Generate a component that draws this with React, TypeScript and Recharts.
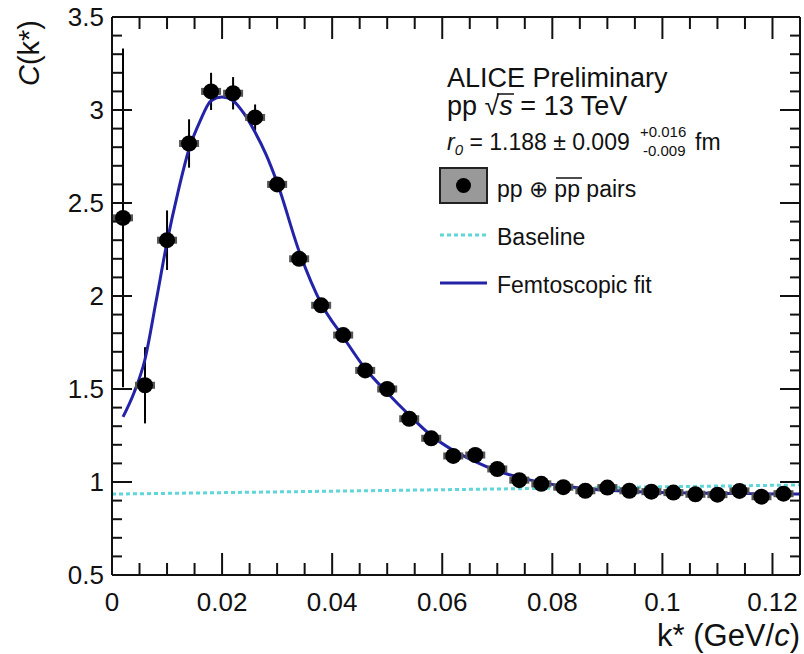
import React from "react";
import { ComposedChart, Scatter, Line, XAxis, YAxis, ErrorBar } from "recharts";

// measured correlation function, pp (+) anti-pp
const kStar = [
  0.002, 0.006, 0.01, 0.014, 0.018, 0.022, 0.026, 0.03, 0.034, 0.038, 0.042,
  0.046, 0.05, 0.054, 0.058, 0.062, 0.066, 0.07, 0.074, 0.078, 0.082, 0.086,
  0.09, 0.094, 0.098, 0.102, 0.106, 0.11, 0.114, 0.118, 0.122,
];
const corr = [
  2.42, 1.52, 2.3, 2.82, 3.1, 3.09, 2.96, 2.6, 2.2, 1.95, 1.79,
  1.6, 1.5, 1.34, 1.235, 1.14, 1.145, 1.07, 1.01, 0.99, 0.972, 0.953,
  0.97, 0.953, 0.948, 0.943, 0.934, 0.932, 0.952, 0.921, 0.937,
];
const statErr = [
  0.91, 0.205, 0.16, 0.13, 0.1, 0.087, 0.07, 0.04, 0.03, 0.03, 0.02,
  0.02, 0.02, 0.02, 0.02, 0.015, 0.015, 0.015, 0.01, 0.01, 0.01, 0.01,
  0.01, 0.01, 0.01, 0.01, 0.01, 0.01, 0.01, 0.01, 0.01,
];

// femtoscopic fit curve
const fitK = [
  0.002, 0.004, 0.006, 0.008, 0.01, 0.012, 0.014, 0.016, 0.018, 0.02, 0.022,
  0.024, 0.026, 0.028, 0.03, 0.034, 0.038, 0.042, 0.046, 0.05, 0.054, 0.058,
  0.062, 0.066, 0.07, 0.074, 0.078, 0.082, 0.086, 0.09, 0.094, 0.098, 0.102,
  0.106, 0.11, 0.114, 0.118, 0.122, 0.125,
];
const fitC = [
  1.35, 1.48, 1.66, 1.97, 2.29, 2.56, 2.79, 2.94, 3.05, 3.07, 3.05,
  2.98, 2.88, 2.76, 2.61, 2.24, 1.96, 1.78, 1.61, 1.48, 1.36, 1.25,
  1.17, 1.11, 1.06, 1.025, 0.998, 0.978, 0.964, 0.955, 0.949, 0.945, 0.942,
  0.94, 0.939, 0.938, 0.937, 0.936, 0.936,
];

// baseline
const baseK = [0, 0.125];
const baseC = [0.935, 0.984];

const xTicks = [
  0, 0.005, 0.01, 0.015, 0.02, 0.025, 0.03, 0.035, 0.04, 0.045, 0.05, 0.055,
  0.06, 0.065, 0.07, 0.075, 0.08, 0.085, 0.09, 0.095, 0.1, 0.105, 0.11, 0.115,
  0.12,
];
const xMajor = [0, 0.02, 0.04, 0.06, 0.08, 0.1, 0.12];
const yTicks = [
  0.5, 0.6, 0.7, 0.8, 0.9, 1, 1.1, 1.2, 1.3, 1.4, 1.5, 1.6, 1.7, 1.8, 1.9, 2,
  2.1, 2.2, 2.3, 2.4, 2.5, 2.6, 2.7, 2.8, 2.9, 3, 3.1, 3.2, 3.3, 3.4, 3.5,
];
const yMajor = [0.5, 1, 1.5, 2, 2.5, 3, 3.5];

const points = kStar.map((k, i) => ({ k, c: corr[i], err: statErr[i] }));
const fit = fitK.map((k, i) => ({ k, c: fitC[i] }));
const baseline = baseK.map((k, i) => ({ k, c: baseC[i] }));

const FONT = "'Liberation Sans', Arial, Helvetica, sans-serif";
const FIT_COLOR = "#2323a8";
const BASE_COLOR = "#5fd6d8";

function BottomTick(props: any) {
  const { x, y, payload } = props;
  const major = xMajor.includes(payload.value);
  return (
    <g>
      <line x1={x} x2={x} y1={y} y2={y - (major ? 22 : 12)} stroke="#111" strokeWidth={2} />
      {major && (
        <text x={x} y={y + 36} textAnchor="middle" fontSize={26} fontFamily={FONT} fill="#111">
          {String(payload.value)}
        </text>
      )}
    </g>
  );
}

function TopTick(props: any) {
  const { x, y, payload } = props;
  const major = xMajor.includes(payload.value);
  return <line x1={x} x2={x} y1={y} y2={y + (major ? 22 : 12)} stroke="#111" strokeWidth={2} />;
}

function LeftTick(props: any) {
  const { x, y, payload } = props;
  const major = yMajor.includes(payload.value);
  return (
    <g>
      <line x1={x} x2={x + (major ? 20 : 10)} y1={y} y2={y} stroke="#111" strokeWidth={2} />
      {major && (
        <text x={x - 8} y={y + 9} textAnchor="end" fontSize={26} fontFamily={FONT} fill="#111">
          {String(payload.value)}
        </text>
      )}
    </g>
  );
}

function RightTick(props: any) {
  const { x, y, payload } = props;
  const major = yMajor.includes(payload.value);
  return <line x1={x} x2={x - (major ? 20 : 10)} y1={y} y2={y} stroke="#111" strokeWidth={2} />;
}

function DataMarker(props: any) {
  const { cx, cy } = props;
  return (
    <g>
      <rect x={cx - 10} y={cy - 3.5} width={20} height={7} fill="#555" />
      <circle cx={cx} cy={cy} r={8} fill="#000" />
    </g>
  );
}

function Overlay() {
  const t = { fontFamily: FONT, fill: "#111" };
  return (
    <svg
      width={804}
      height={654}
      style={{ position: "absolute", left: 0, top: 0, pointerEvents: "none" }}
    >
      {/* axis titles */}
      <text transform="rotate(-90)" x={-20} y={39} textAnchor="end" fontSize={29} {...t}>
        <tspan fontStyle="italic">C</tspan>(k*)
      </text>
      <text x={800} y={646} textAnchor="end" fontSize={31} {...t}>
        k* (GeV/<tspan fontStyle="italic">c</tspan>)
      </text>

      {/* header */}
      <text x={447} y={87} fontSize={27} {...t}>ALICE Preliminary</text>
      <text x={447} y={115} fontSize={27} {...t}>
        pp √<tspan fontStyle="italic">s</tspan> = 13 TeV
      </text>
      <line x1={497} x2={514} y1={94} y2={94} stroke="#111" strokeWidth={1.5} />
      <text x={447} y={150} fontSize={23} {...t}>
        <tspan fontStyle="italic">r</tspan>
        <tspan fontStyle="italic" fontSize={15} dy={5}>0</tspan>
        <tspan dy={-5}> = 1.188 ± 0.009</tspan>
      </text>
      <text x={640} y={137} fontSize={15} {...t}>+0.016</text>
      <text x={643} y={156} fontSize={15} {...t}>-0.009</text>
      <text x={695} y={150} fontSize={23} {...t}>fm</text>

      {/* legend */}
      <rect x={440} y={168} width={47} height={35} fill="#999" stroke="#222" strokeWidth={2} />
      <circle cx={463.5} cy={185.5} r={7.5} fill="#000" />
      <text x={497} y={197} fontSize={23} {...t}>
        pp ⊕ pp pairs
      </text>
      <line x1={556} x2={582} y1={178} y2={178} stroke="#111" strokeWidth={1.5} />
      <line x1={440} x2={487} y1={235} y2={235} stroke={BASE_COLOR} strokeWidth={3} strokeDasharray="4 3" />
      <text x={497} y={245} fontSize={23} {...t}>Baseline</text>
      <line x1={440} x2={487} y1={283} y2={283} stroke={FIT_COLOR} strokeWidth={3} />
      <text x={497} y={293} fontSize={23} {...t}>Femtoscopic fit</text>
    </svg>
  );
}

export default function App() {
  return (
    <div style={{ position: "relative", width: 804, height: 654, background: "#fff" }}>
      <style>{`body { margin: 0; }`}</style>
      <ComposedChart width={804} height={654} margin={{ top: 16, right: 3, bottom: 0, left: 0 }}>
        <XAxis
          xAxisId="b"
          dataKey="k"
          type="number"
          domain={[0, 0.125]}
          allowDataOverflow
          ticks={xTicks}
          interval={0}
          height={79}
          tickSize={0}
          tickMargin={0}
          tick={<BottomTick />}
          axisLine={{ stroke: "#111", strokeWidth: 2 }}
        />
        <XAxis
          xAxisId="t"
          orientation="top"
          dataKey="k"
          type="number"
          domain={[0, 0.125]}
          allowDataOverflow
          ticks={xTicks}
          interval={0}
          height={1}
          tickSize={0}
          tickMargin={0}
          tick={<TopTick />}
          axisLine={{ stroke: "#111", strokeWidth: 2 }}
        />
        <YAxis
          yAxisId="l"
          dataKey="c"
          type="number"
          domain={[0.5, 3.5]}
          allowDataOverflow
          ticks={yTicks}
          interval={0}
          width={112}
          tickSize={0}
          tickMargin={0}
          tick={<LeftTick />}
          axisLine={{ stroke: "#111", strokeWidth: 2 }}
        />
        <YAxis
          yAxisId="r"
          orientation="right"
          dataKey="c"
          type="number"
          domain={[0.5, 3.5]}
          allowDataOverflow
          ticks={yTicks}
          interval={0}
          width={1}
          tickSize={0}
          tickMargin={0}
          tick={<RightTick />}
          axisLine={{ stroke: "#111", strokeWidth: 2 }}
        />
        {/* invisible series so the mirrored frame axes get a domain */}
        <Line
          xAxisId="t"
          yAxisId="r"
          data={baseline}
          dataKey="c"
          stroke="none"
          dot={false}
          activeDot={false}
          isAnimationActive={false}
        />
        <Line
          xAxisId="b"
          yAxisId="l"
          data={baseline}
          dataKey="c"
          type="linear"
          stroke={BASE_COLOR}
          strokeWidth={3}
          strokeDasharray="4 3"
          dot={false}
          activeDot={false}
          isAnimationActive={false}
        />
        <Scatter
          xAxisId="b"
          yAxisId="l"
          data={points}
          dataKey="c"
          shape={<DataMarker />}
          isAnimationActive={false}
        >
          <ErrorBar dataKey="err" direction="y" width={0} stroke="#000" strokeWidth={2} />
        </Scatter>
        <Line
          xAxisId="b"
          yAxisId="l"
          data={fit}
          dataKey="c"
          type="monotone"
          stroke={FIT_COLOR}
          strokeWidth={3}
          dot={false}
          activeDot={false}
          isAnimationActive={false}
        />
      </ComposedChart>
      <Overlay />
    </div>
  );
}
